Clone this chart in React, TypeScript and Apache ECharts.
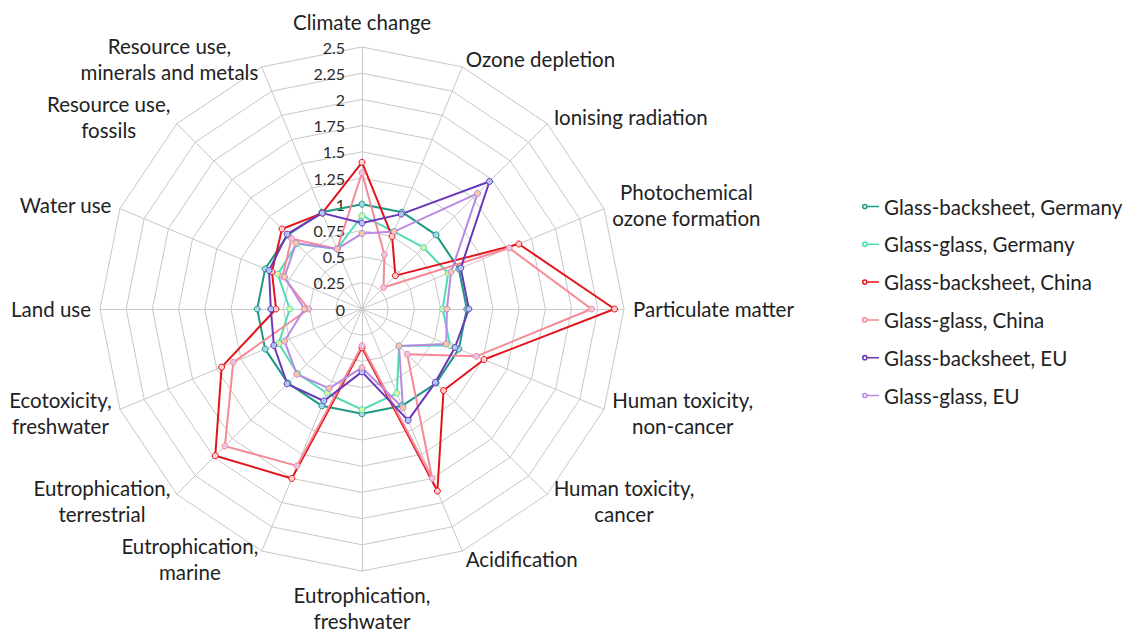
import React, { useEffect, useRef } from 'react';
import * as echarts from 'echarts';

// Indicators in clockwise order starting at the top
const indicatorNames: string[] = [
  'Climate change',
  'Ozone depletion',
  'Ionising radiation',
  'Photochemical\nozone formation',
  'Particulate matter',
  'Human toxicity,\nnon-cancer',
  'Human toxicity,\ncancer',
  'Acidification',
  'Eutrophication,\nfreshwater',
  'Eutrophication,\nmarine',
  'Eutrophication,\nterrestrial',
  'Ecotoxicity,\nfreshwater',
  'Land use',
  'Water use',
  'Resource use,\nfossils',
  'Resource use,\nminerals and metals',
];

const seriesNames: string[] = [
  'Glass-backsheet, Germany',
  'Glass-glass, Germany',
  'Glass-backsheet, China',
  'Glass-glass, China',
  'Glass-backsheet, EU',
  'Glass-glass, EU',
];

const gbGermany: number[] = [1, 1, 1, 1, 1, 1, 1, 1, 1, 1, 1, 1, 1, 1, 1, 1];
const ggGermany: number[] = [0.89, 0.8, 0.83, 0.89, 0.77, 0.91, 0.5, 0.87, 0.96, 0.87, 0.87, 0.86, 0.69, 0.87, 0.88, 0.62];
const gbChina: number[] = [1.4, 0.75, 0.45, 1.62, 2.41, 1.26, 1.1, 1.88, 0.37, 1.75, 1.98, 1.45, 0.82, 0.93, 1.08, 0.99];
const ggChina: number[] = [1.3, 0.56, 0.29, 1.52, 2.19, 1.18, 0.61, 1.75, 0.35, 1.62, 1.85, 1.33, 0.51, 0.82, 0.95, 0.62];
const gbEU: number[] = [0.82, 0.98, 1.72, 1.02, 1.02, 0.96, 0.99, 1.15, 0.6, 0.95, 1.01, 0.91, 0.87, 0.96, 1.01, 0.99];
const ggEU: number[] = [0.72, 0.8, 1.56, 0.92, 0.81, 0.87, 0.5, 1.02, 0.56, 0.82, 0.88, 0.8, 0.55, 0.8, 0.89, 0.62];

const axisMax = 2.5;
const axisSplits = 10;

const lineColors = ['#1f9a84', '#4fdcb4', '#e3141c', '#f58a96', '#6a37b8', '#b88ae2'];
const markerFills = ['#a8d4ec', '#dcf3a6', '#ffd0d0', '#e8c4e8', '#b0c8f4', '#f8c8a0'];

// per-indicator gap between the outer ring and its name (clockwise order)
const nameGaps: number[] = [12, 9, 9, 9, 9, 9, 9, 9, 11, 9, 9, 9, 9, 9, 9, 9];

const LEGEND_ICON =
  'path://M0,3a3,3 0 1,0 6,0a3,3 0 1,0 -6,0z M1.6,3a1.4,1.4 0 1,1 2.8,0a1.4,1.4 0 1,1 -2.8,0z M6,2.2h12v1.6h-12z';

export default function App() {
  const ref = useRef<HTMLDivElement>(null);

  useEffect(() => {
    if (!ref.current) return;
    const chart = echarts.init(ref.current, undefined, { renderer: 'svg' });

    // ECharts lays out radar indicators counter-clockwise; reorder to get clockwise
    const order = [0, ...Array.from({ length: indicatorNames.length - 1 }, (_, k) => indicatorNames.length - 1 - k)];
    const reorder = (arr: number[]) => order.map((i) => arr[i]);
    const allValues = [gbGermany, ggGermany, gbChina, ggChina, gbEU, ggEU];

    const option: any = {
      animation: false,
      backgroundColor: '#ffffff',
      textStyle: { fontFamily: 'Lato' },
      legend: {
        orient: 'vertical',
        left: 857,
        top: 191,
        itemGap: 16.8,
        itemWidth: 17,
        itemHeight: 6,
        textStyle: { fontSize: 20.5, color: '#222', fontFamily: 'Lato' },
        data: seriesNames.map((n, i) => ({
          name: n,
          icon: LEGEND_ICON,
          itemStyle: { color: lineColors[i], borderWidth: 0 },
        })),
      },
      radar: {
        center: [362, 309],
        radius: 262,
        startAngle: 90,
        shape: 'polygon',
        splitNumber: axisSplits,
        nameGap: 9,
        axisName: {
          color: '#222',
          fontSize: 20.5,
          fontFamily: 'Lato',
          formatter: (v: string) =>
            v
              .split('\n')
              .map((l) => `{c|${l}}`)
              .join('\n'),
          rich: {
            c: { align: 'center', fontSize: 20.5, lineHeight: 26, color: '#222', fontFamily: 'Lato' },
          },
        },
        splitLine: { lineStyle: { color: '#c8c8c8', width: 1 } },
        splitArea: { show: false },
        axisLine: { lineStyle: { color: '#c8c8c8', width: 1 } },
        axisTick: { show: false },
        axisLabel: { show: false },
        indicator: order.map((i, k) => {
          const ind: any = { name: indicatorNames[i], min: 0, max: axisMax, nameGap: nameGaps[i] };
          if (k === 0) {
            ind.axisLabel = {
              show: true,
              color: '#2a2a2a',
              fontSize: 16,
              fontFamily: 'Lato',
              margin: 17,
            };
          }
          return ind;
        }),
      },
      series: [
        {
          type: 'radar',
          symbol: 'circle',
          symbolSize: 6,
          data: seriesNames.map((n, i) => ({
            name: n,
            value: reorder(allValues[i]),
            symbol: 'circle',
            symbolSize: 6,
            lineStyle: { color: lineColors[i], width: 2 },
            itemStyle: { color: markerFills[i], borderColor: lineColors[i], borderWidth: 1 },
          })),
        },
      ],
    };

    chart.setOption(option);
    return () => chart.dispose();
  }, []);

  return (
    <div
      ref={ref}
      style={{ position: 'absolute', left: 0, top: 0, width: 1133, height: 632 }}
    />
  );
}
